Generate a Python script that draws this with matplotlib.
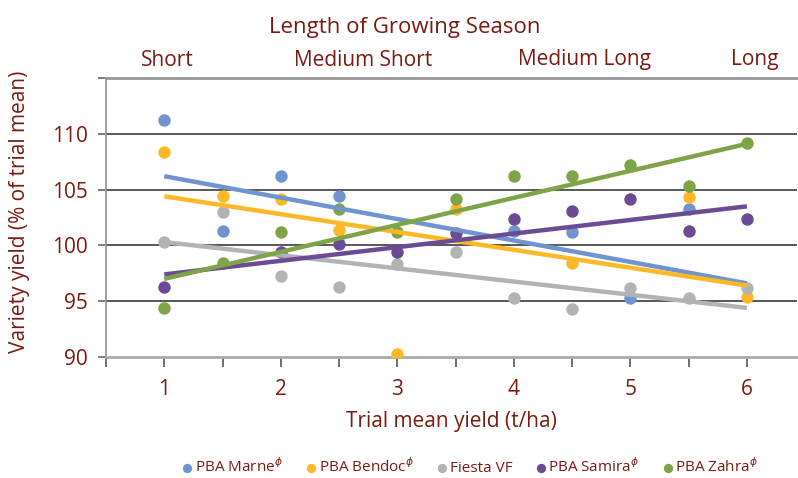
import numpy as np
import matplotlib.pyplot as plt

plt.rcParams['font.family'] = ['Open Sans', 'DejaVu Sans']

# trial mean yield (t/ha)
x_vals = [1, 1.5, 2, 2.5, 3, 3.5, 4, 4.5, 5, 5.5, 6]
nan = np.nan

marne = [111.2, 101.3, 106.2, 104.4, nan, nan, 101.3, 101.2, 95.3, 103.25, nan]
bendoc = [108.4, 104.4, 104.2, 101.4, 90.3, 103.25, nan, 98.4, nan, 104.3, 95.35]
fiesta = [100.3, 103.0, 97.3, 96.3, 98.3, 99.45, 95.3, 94.3, 96.2, 95.3, 96.2]
samira = [96.3, nan, 99.4, 100.1, 99.45, 101.1, 102.4, 103.1, 104.15, 101.3, 102.4]
zahra = [94.4, 98.4, 101.2, 103.3, 101.2, 104.2, 106.2, 106.2, 107.2, 105.3, 109.2]

# trend lines (value at x=1 and x=6)
trend_x = [1, 6]
marne_trend = [106.2, 96.6]
bendoc_trend = [104.4, 96.4]
fiesta_trend = [100.3, 94.4]
samira_trend = [97.4, 103.5]
zahra_trend = [97.0, 109.1]

names = ['PBA Marne$^{\\phi}$', 'PBA Bendoc$^{\\phi}$', 'Fiesta VF',
         'PBA Samira$^{\\phi}$', 'PBA Zahra$^{\\phi}$']
colors = ['#7094cf', '#fdb827', '#b3b3b5', '#6b4c94', '#7fa347']
season = ['Short', 'Medium Short', 'Medium Long', 'Long']
season_x = [167, 363, 584, 755]

red = '#7a1a10'

fig = plt.figure(figsize=(7.98, 4.78), dpi=100)
ax = fig.add_axes([106/798, 1-357/478, 691/798, 279/478])

series = [marne, bendoc, fiesta, samira, zahra]
trends = [marne_trend, bendoc_trend, fiesta_trend, samira_trend, zahra_trend]

for ys, c, n in zip(series, colors, names):
    ax.scatter(x_vals, ys, s=80, color=c, label=n, zorder=3, linewidths=0)
for t, c in zip(trends, colors):
    ax.plot(trend_x, t, color=c, lw=3.2, zorder=4, solid_capstyle='butt')

ax.set_xlim(0.5, 6.43)
ax.set_ylim(90, 115)
ax.set_yticks([90, 95, 100, 105, 110, 115])
ax.set_yticklabels(['90', '95', '100', '105', '110', ''])
ax.set_xticks(np.arange(0.5, 6.01, 0.5))
ax.set_xticklabels(['' if v % 1 else str(int(v)) for v in np.arange(0.5, 6.01, 0.5)])

for yv in [95, 100, 105, 110]:
    ax.axhline(yv, color='#4a4a4a', lw=1.3, zorder=1)
ax.axhline(115, color='#999999', lw=2, zorder=1, clip_on=False)

for s in ['top', 'right']:
    ax.spines[s].set_visible(False)
ax.spines['left'].set_color('#999999')
ax.spines['bottom'].set_color('#aaaaaa')
ax.spines['left'].set_linewidth(1.3)
ax.spines['bottom'].set_linewidth(2)

ax.tick_params(axis='y', length=6, width=1.2, color='#666666', pad=7,
               labelsize=15, labelcolor=red)
ax.tick_params(axis='x', length=7, width=1.2, color='#555555', pad=9,
               labelsize=15, labelcolor=red)

ax.set_xlabel('Trial mean yield (t/ha)', fontsize=15, color=red, labelpad=8)
ax.set_ylabel('Variety yield (% of trial mean)', fontsize=15, color=red)
ax.yaxis.set_label_coords(-0.11, 0.52)

fig.text(405/798, 1-28/478, 'Length of Growing Season', ha='center', va='center',
         fontsize=16, color=red)
for lab, xp in zip(season, season_x):
    fig.text(xp/798, 1-60/478, lab, ha='center', va='center', fontsize=15, color=red)

fig.legend(loc='center', bbox_to_anchor=(470/798, 1-467/478), ncol=5, frameon=False,
           fontsize=11, handlelength=0.7, handletextpad=0.15, columnspacing=1.5,
           markerscale=0.75, labelcolor=red, borderaxespad=0)

fig.savefig('out.png', dpi=100)
